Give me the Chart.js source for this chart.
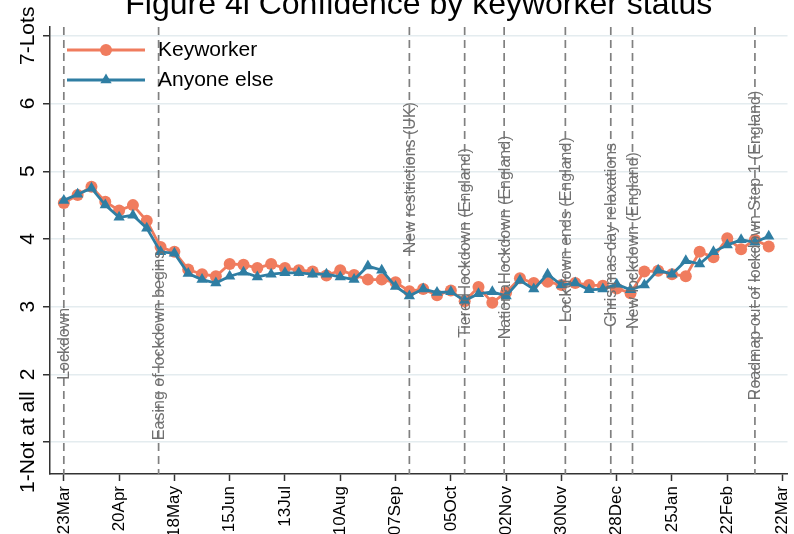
<!DOCTYPE html>
<html>
<head>
<meta charset="utf-8">
<script src="https://cdn.jsdelivr.net/npm/chart.js@4.4.1/dist/chart.umd.min.js"></script>
<style>
  html, body { margin: 0; padding: 0; background: #fff; overflow: hidden; }
  #wrap { position: absolute; left: 0; top: -14px; width: 794px; height: 548px; }
</style>
</head>
<body>
<div id="wrap"><canvas id="chart" width="794" height="548"></canvas></div>
<script>
const FONT = "'Liberation Sans', Arial, sans-serif";

// days since 23 Mar 2020, one survey wave per week
const weekDays = [0, 7, 14, 21, 28, 35, 42, 49, 56, 63, 70, 77, 84, 91, 98, 105, 112, 119, 126, 133,
  140, 147, 154, 161, 168, 175, 182, 189, 196, 203, 210, 217, 224, 231, 238, 245, 252, 259, 266, 273,
  280, 287, 294, 301, 308, 315, 322, 329, 336, 343, 350, 357];

const keyworker = [4.53, 4.65, 4.77, 4.55, 4.42, 4.50, 4.27, 3.88, 3.81, 3.55, 3.48, 3.45, 3.63, 3.62,
  3.57, 3.63, 3.57, 3.54, 3.52, 3.46, 3.54, 3.47, 3.40, 3.40, 3.36, 3.23, 3.26, 3.17, 3.24, 3.08,
  3.29, 3.06, 3.21, 3.42, 3.35, 3.37, 3.32, 3.35, 3.32, 3.31, 3.27, 3.20, 3.52, 3.53, 3.48, 3.45,
  3.81, 3.73, 4.01, 3.85, 3.99, 3.89];

const anyoneElse = [4.57, 4.66, 4.75, 4.50, 4.32, 4.35, 4.16, 3.81, 3.79, 3.49, 3.40, 3.35, 3.45, 3.51,
  3.44, 3.48, 3.50, 3.50, 3.48, 3.48, 3.44, 3.40, 3.60, 3.54, 3.30, 3.16, 3.26, 3.21, 3.22, 3.09,
  3.19, 3.22, 3.16, 3.39, 3.26, 3.48, 3.32, 3.35, 3.25, 3.26, 3.33, 3.25, 3.32, 3.54, 3.48, 3.68,
  3.63, 3.81, 3.91, 3.99, 3.95, 4.04];

const tickDays = [0, 28, 56, 84, 112, 140, 168, 196, 224, 252, 280, 308, 336, 364];
const tickLabels = ["23Mar", "20Apr", "18May", "15Jun", "13Jul", "10Aug", "07Sep", "05Oct",
  "02Nov", "30Nov", "28Dec", "25Jan", "22Feb", "22Mar"];

const yTickValues = [1, 2, 3, 4, 5, 6, 7];
const yTickLabels = ["1-Not at all", "2", "3", "4", "5", "6", "7-Lots"];

// policy events: day, label, value where the label text starts
const eventDays = [0, 48, 175, 203, 223, 254, 277, 288, 350];
const eventLabels = ["Lockdown", "Easing of lockdown begins", "New restrictions (UK)",
  "Tiered lockdown (England)", "National lockdown (England)", "Lockdown ends (England)",
  "Christmas day relaxations", "New lockdown (England)", "Roadmap out of lockdown Step 1 (England)"];
const eventLabelFrom = [1.92, 1.03, 3.79, 2.54, 2.52, 2.77, 2.70, 2.67, 1.62];

// ------------------------------
// Y LABEL PLACEMENT (rotated, centred in a 50px axis)
// ------------------------------
const Y_FONT_SIZE = 21;
const measureCtx = document.createElement("canvas").getContext("2d");
measureCtx.font = `${Y_FONT_SIZE}px ${FONT}`;
const widestY = Math.max(...yTickLabels.map(t => measureCtx.measureText(t).width));
const yLabelPad = 50 - 7 - 28 - widestY / 2;

// ------------------------------
// PLUGINS
// ------------------------------
const eventLines = {
  id: "eventLines",
  beforeDatasetsDraw(chart) {
    const { ctx, chartArea, scales: { x } } = chart;
    ctx.save();
    ctx.strokeStyle = "#808080";
    ctx.lineWidth = 1.7;
    ctx.setLineDash([8, 5]);
    eventDays.forEach(d => {
      const px = x.getPixelForValue(d);
      ctx.beginPath();
      ctx.moveTo(px, chartArea.top);
      ctx.lineTo(px, chartArea.bottom);
      ctx.stroke();
    });
    ctx.restore();
  },
  afterDatasetsDraw(chart) {
    const { ctx, scales: { x, y } } = chart;
    ctx.save();
    ctx.fillStyle = "#707070";
    ctx.font = `16px ${FONT}`;
    ctx.textAlign = "left";
    ctx.textBaseline = "middle";
    eventDays.forEach((d, i) => {
      ctx.save();
      ctx.translate(x.getPixelForValue(d) + 1, y.getPixelForValue(eventLabelFrom[i]));
      ctx.rotate(-Math.PI / 2);
      ctx.fillText(eventLabels[i], 0, 0);
      ctx.restore();
    });
    ctx.restore();
  }
};

const insideLegend = {
  id: "insideLegend",
  afterDraw(chart) {
    const { ctx, chartArea } = chart;
    ctx.save();
    chart.data.datasets.forEach((ds, i) => {
      const y = chartArea.top + 23 + i * 30;
      const x0 = chartArea.left + 17;
      const x1 = x0 + 78;
      ctx.setLineDash([]);
      ctx.strokeStyle = ds.borderColor;
      ctx.lineWidth = ds.borderWidth;
      ctx.beginPath();
      ctx.moveTo(x0, y);
      ctx.lineTo(x1, y);
      ctx.stroke();
      ctx.fillStyle = ds.pointBackgroundColor;
      Chart.helpers.drawPoint(ctx, { pointStyle: ds.pointStyle, radius: ds.pointRadius, rotation: 0, borderWidth: 0 }, (x0 + x1) / 2, y);
      ctx.fillStyle = "#000";
      ctx.font = `21px ${FONT}`;
      ctx.textAlign = "left";
      ctx.textBaseline = "middle";
      ctx.fillText(ds.label, x1 + 13, y);
    });
    ctx.restore();
  }
};

// ------------------------------
// CHART
// ------------------------------
new Chart(document.getElementById("chart"), {
  type: "line",
  data: {
    datasets: [
      {
        label: "Keyworker",
        data: weekDays.map((d, i) => ({ x: d, y: keyworker[i] })),
        borderColor: "#f07c5e",
        backgroundColor: "#f07c5e",
        pointBackgroundColor: "#f07c5e",
        borderWidth: 2.8,
        pointStyle: "circle",
        pointRadius: 6,
        pointBorderWidth: 0,
        tension: 0,
        order: 2
      },
      {
        label: "Anyone else",
        data: weekDays.map((d, i) => ({ x: d, y: anyoneElse[i] })),
        borderColor: "#2f7ea3",
        backgroundColor: "#2f7ea3",
        pointBackgroundColor: "#2f7ea3",
        borderWidth: 2.8,
        pointStyle: "triangle",
        pointRadius: 6.5,
        pointBorderWidth: 0,
        tension: 0,
        order: 1
      }
    ]
  },
  options: {
    responsive: false,
    animation: false,
    layout: { padding: { left: 0, right: 4, top: 0, bottom: 0 } },
    plugins: {
      legend: { display: false },
      tooltip: { enabled: false },
      title: {
        display: true,
        fullSize: false,
        text: "Figure 4l Confidence by keyworker status",
        color: "#000",
        font: { family: FONT, size: 32, weight: "normal", lineHeight: 1 },
        padding: { top: 3, bottom: 6 }
      }
    },
    scales: {
      x: {
        type: "linear",
        min: -7,
        max: 366.5,
        afterBuildTicks: s => { s.ticks = tickDays.map(v => ({ value: v })); },
        afterFit: s => { s.height = 60; s.paddingLeft = 0; s.paddingRight = 0; },
        ticks: {
          callback: (v, i) => tickLabels[i],
          autoSkip: false,
          minRotation: 90,
          maxRotation: 90,
          padding: 5,
          color: "#000",
          font: { family: FONT, size: 17 }
        },
        grid: { drawOnChartArea: false, tickLength: 7, tickColor: "#333", tickWidth: 1.5 },
        border: { color: "#333", width: 1.5 }
      },
      y: {
        type: "linear",
        min: 0.53,
        max: 7.13,
        afterBuildTicks: s => { s.ticks = yTickValues.map(v => ({ value: v })); },
        afterFit: s => { s.width = 50; s.paddingTop = 0; s.paddingBottom = 0; },
        ticks: {
          callback: (v, i) => yTickLabels[i],
          autoSkip: false,
          minRotation: 90,
          maxRotation: 90,
          crossAlign: "center",
          padding: yLabelPad,
          color: "#000",
          font: { family: FONT, size: Y_FONT_SIZE }
        },
        grid: { color: "#e4ecef", lineWidth: 1.5, tickLength: 7, tickColor: "#333", tickWidth: 1.5 },
        border: { color: "#333", width: 1.5 }
      }
    }
  },
  plugins: [eventLines, insideLegend]
});
</script>
</body>
</html>
